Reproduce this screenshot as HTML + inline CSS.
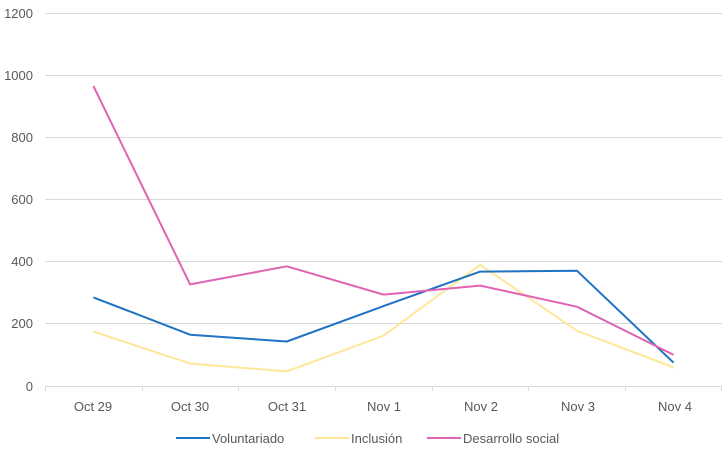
<!DOCTYPE html>
<html><head><meta charset="utf-8"><style>body{margin:0;background:#fff}svg{display:block;font-family:"Liberation Sans",sans-serif}</style></head>
<body>
<svg width="727" height="452" viewBox="0 0 727 452">
<g stroke="#d9d9d9" stroke-width="1">
<line x1="45" x2="722" y1="13.5" y2="13.5"/>
<line x1="45" x2="722" y1="75.5" y2="75.5"/>
<line x1="45" x2="722" y1="137.5" y2="137.5"/>
<line x1="45" x2="722" y1="199.5" y2="199.5"/>
<line x1="45" x2="722" y1="261.5" y2="261.5"/>
<line x1="45" x2="722" y1="323.5" y2="323.5"/>
<line x1="45" x2="722" y1="386.5" y2="386.5"/>
<line x1="45.5" x2="45.5" y1="386" y2="391"/>
<line x1="142.5" x2="142.5" y1="386" y2="391"/>
<line x1="238.5" x2="238.5" y1="386" y2="391"/>
<line x1="335.5" x2="335.5" y1="386" y2="391"/>
<line x1="432.5" x2="432.5" y1="386" y2="391"/>
<line x1="528.5" x2="528.5" y1="386" y2="391"/>
<line x1="625.5" x2="625.5" y1="386" y2="391"/>
<line x1="721.5" x2="721.5" y1="386" y2="391"/>
</g>
<g font-size="13" fill="#595959" text-anchor="end">
<text x="33" y="18">1200</text><text x="33" y="80">1000</text><text x="33" y="142">800</text>
<text x="33" y="204">600</text><text x="33" y="266">400</text><text x="33" y="328">200</text><text x="33" y="391">0</text>
</g>
<g font-size="13" fill="#595959" text-anchor="middle">
<text x="93" y="411">Oct 29</text><text x="190" y="411">Oct 30</text><text x="287" y="411">Oct 31</text>
<text x="384" y="411">Nov 1</text><text x="481" y="411">Nov 2</text><text x="578" y="411">Nov 3</text><text x="675" y="411">Nov 4</text>
</g>
<g fill="none" stroke-width="2" stroke-linejoin="round">
<polyline stroke="#ffe699" points="93.4,331.6 190.1,363.6 286.8,371.4 383.5,335.6 480.2,264.8 576.9,330.7 673.6,367.4"/>
<polyline stroke="#1f72c4" points="93.4,297.4 190.1,334.7 286.8,341.5 383.5,306.1 480.2,271.6 576.9,270.7 673.6,362.7"/>
<polyline stroke="#e064b4" points="93.4,86 190.1,284.4 286.8,266.3 383.5,294.6 480.2,285.6 576.9,306.7 673.6,354.9"/>
</g>
<g font-size="13" fill="#595959">
<line x1="176" x2="210" y1="438" y2="438" stroke="#1f72c4" stroke-width="2"/><text x="212" y="443">Voluntariado</text>
<line x1="315" x2="349" y1="438" y2="438" stroke="#ffe699" stroke-width="2"/><text x="351" y="443">Inclusión</text>
<line x1="427" x2="461" y1="438" y2="438" stroke="#e064b4" stroke-width="2"/><text x="463" y="443">Desarrollo social</text>
</g>
</svg>
</body></html>
